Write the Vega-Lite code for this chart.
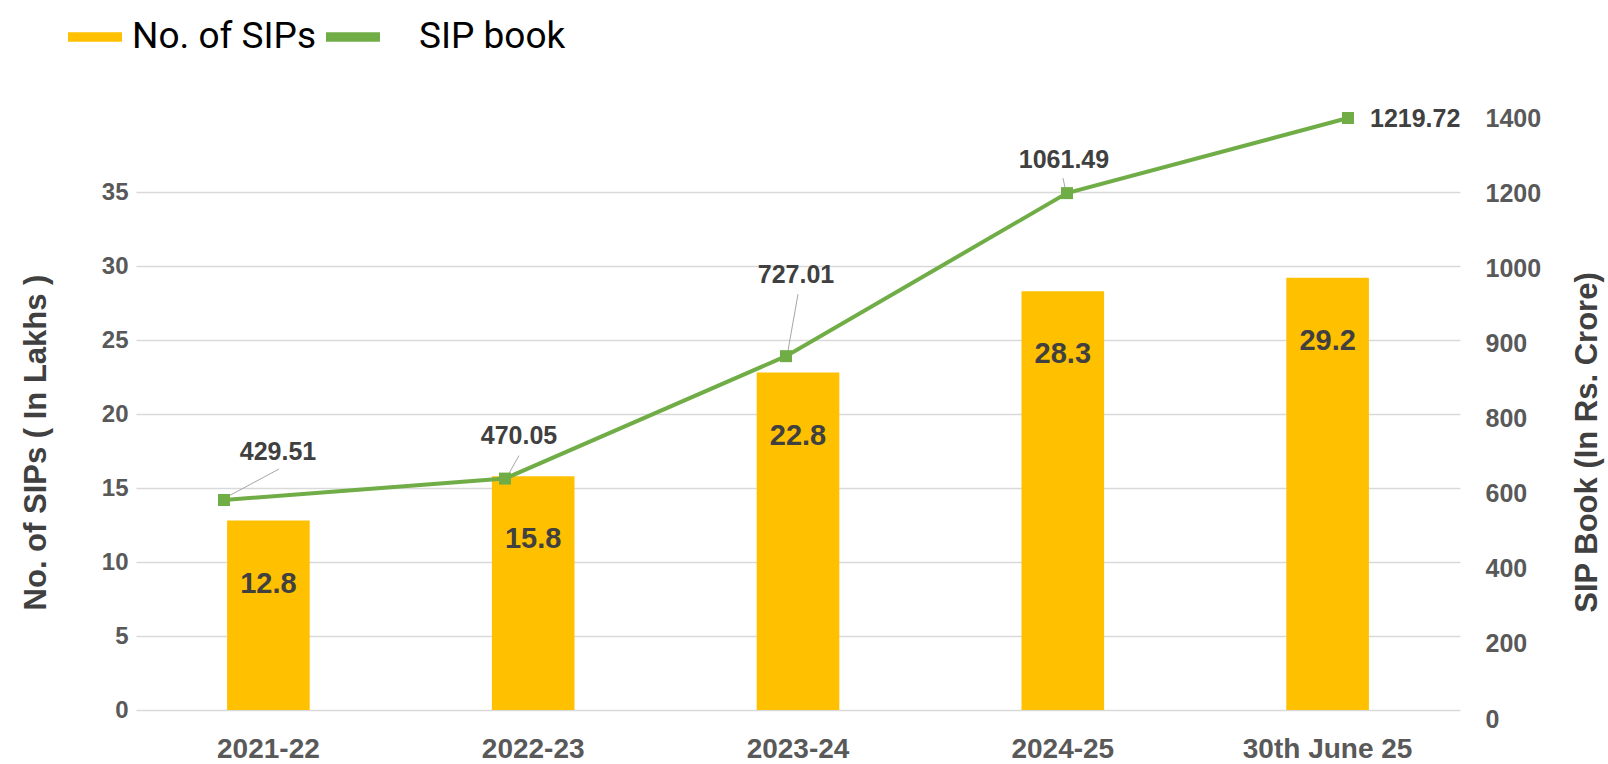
{
  "$schema": "https://vega.github.io/schema/vega-lite/v6.json",
  "width": 1324,
  "height": 592,
  "autosize": {"type": "none"},
  "padding": {"left": 136, "top": 118, "right": 148, "bottom": 54},
  "background": "white",
  "data": {"values": [
    {"period": "2021-22", "sips": 12.8, "sip_book": 429.51, "sip_book_axis": 583},
    {"period": "2022-23", "sips": 15.8, "sip_book": 470.05, "sip_book_axis": 640},
    {"period": "2023-24", "sips": 22.8, "sip_book": 727.01, "sip_book_axis": 883},
    {"period": "2024-25", "sips": 28.3, "sip_book": 1061.49, "sip_book_axis": 1200},
    {"period": "30th June 25", "sips": 29.2, "sip_book": 1219.72, "sip_book_axis": 1400}
  ]},
  "config": {"view": {"stroke": null}, "font": "Liberation Sans"},
  "resolve": {"scale": {"x": "independent", "y": "independent"}},
  "layer": [
    {
      "encoding": {
        "x": {"field": "period", "type": "nominal", "sort": null,
          "scale": {"paddingInner": 0, "paddingOuter": 0},
          "axis": {"title": null, "labelAngle": 0, "labelFont": "Liberation Sans", "labelFontWeight": "bold", "labelFontSize": 28, "labelColor": "#595959", "labelPadding": 25, "domain": false, "ticks": false, "grid": false}},
        "y": {"field": "sips", "type": "quantitative",
          "scale": {"domain": [0, 40], "nice": false, "zero": true},
          "axis": {"title": "No. of SIPs ( In Lakhs )", "values": [0, 5, 10, 15, 20, 25, 30, 35], "grid": true, "gridColor": "#D9D9D9", "gridWidth": 1.3, "domain": false, "ticks": false, "labelPadding": 8, "labelFont": "Liberation Sans", "labelFontWeight": "bold", "labelFontSize": 24, "labelColor": "#595959",
            "titleFont": "Liberation Sans", "titleFontWeight": "bold", "titleFontSize": 31, "titleColor": "#404040", "titleX": -100, "titleY": 324, "titleAngle": -90, "titleAlign": "center", "titleBaseline": "middle"}}
      },
      "layer": [
        {"mark": {"type": "bar", "width": {"band": 0.312}},
          "encoding": {"color": {"datum": "No. of SIPs", "type": "nominal",
            "scale": {"domain": ["No. of SIPs", "SIP book"], "range": ["#FFC000", "#70AD47"]},
            "legend": {"orient": "none", "legendX": -68, "legendY": -108, "direction": "horizontal", "title": null, "padding": 0,
              "symbolType": "M-1,-0.18H1V0.18H-1Z", "symbolSize": 2916, "symbolStrokeWidth": 0,
              "labelFont": "Roboto", "labelFontSize": 37, "labelColor": "#000000", "labelOffset": 10, "columnPadding": 9, "labelLimit": 400,
              "encode": {
                "symbols": {"update": {"fill": {"scale": "color", "field": "value"}, "opacity": {"value": 1}}},
                "labels": {"update": {"dx": {"signal": "datum.value == 'SIP book' ? 29 : 0"}}}}}}}},
        {"mark": {"type": "text", "dy": 63, "fontSize": 29, "fontWeight": "bold", "color": "#404040", "font": "Liberation Sans"},
          "encoding": {"text": {"field": "sips", "type": "quantitative", "format": ".1f"}}}
      ]
    },
    {
      "encoding": {
        "x": {"field": "period", "type": "nominal", "sort": null, "scale": {"type": "point", "padding": 0, "range": [88, 1212]}, "axis": null},
        "y": {"field": "sip_book_axis", "type": "quantitative",
          "scale": {"domain": [0, 200, 400, 600, 800, 900, 1000, 1200, 1400], "range": [601, 525.875, 450.75, 375.625, 300.5, 225.375, 150.25, 75.125, 0], "nice": false, "zero": false},
          "axis": {"orient": "right", "title": "SIP Book (In Rs. Crore)", "values": [0, 200, 400, 600, 800, 900, 1000, 1200, 1400], "format": "d", "grid": false, "domain": false, "ticks": false, "labelPadding": 25, "labelAlign": "left", "labelFont": "Liberation Sans", "labelFontWeight": "bold", "labelFontSize": 25, "labelColor": "#595959",
            "titleFont": "Liberation Sans", "titleFontWeight": "bold", "titleFontSize": 31, "titleColor": "#404040", "titleX": 127, "titleY": 324, "titleAngle": -90, "titleAlign": "center", "titleBaseline": "middle"}}
      },
      "layer": [
        {"transform": [{"filter": "datum.period == '2021-22'"}], "mark": {"type": "point", "shape": "M1,-2L55,-31", "size": 4, "filled": false, "stroke": "#A6A6A6", "strokeWidth": 1, "opacity": 1}},
        {"transform": [{"filter": "datum.period == '2022-23'"}], "mark": {"type": "point", "shape": "M1,0L14,-23", "size": 4, "filled": false, "stroke": "#A6A6A6", "strokeWidth": 1, "opacity": 1}},
        {"transform": [{"filter": "datum.period == '2023-24'"}], "mark": {"type": "point", "shape": "M1,0L12,-62", "size": 4, "filled": false, "stroke": "#A6A6A6", "strokeWidth": 1, "opacity": 1}},
        {"transform": [{"filter": "datum.period == '2024-25'"}], "mark": {"type": "point", "shape": "M-1,-1L-4,-15", "size": 4, "filled": false, "stroke": "#A6A6A6", "strokeWidth": 1, "opacity": 1}},
        {"mark": {"type": "line", "strokeWidth": 4}, "encoding": {"color": {"datum": "SIP book", "type": "nominal"}}},
        {"mark": {"type": "point", "shape": "square", "filled": true, "size": 144, "color": "#70AD47", "opacity": 1}},
        {"transform": [{"filter": "datum.period == '2021-22'"}], "mark": {"type": "text", "dx": 54, "dy": -48, "fontSize": 25, "fontWeight": "bold", "color": "#404040", "font": "Liberation Sans"}, "encoding": {"text": {"field": "sip_book", "type": "quantitative", "format": ".2f"}}},
        {"transform": [{"filter": "datum.period == '2022-23'"}], "mark": {"type": "text", "dx": 14, "dy": -43, "fontSize": 25, "fontWeight": "bold", "color": "#404040", "font": "Liberation Sans"}, "encoding": {"text": {"field": "sip_book", "type": "quantitative", "format": ".2f"}}},
        {"transform": [{"filter": "datum.period == '2023-24'"}], "mark": {"type": "text", "dx": 10, "dy": -81, "fontSize": 25, "fontWeight": "bold", "color": "#404040", "font": "Liberation Sans"}, "encoding": {"text": {"field": "sip_book", "type": "quantitative", "format": ".2f"}}},
        {"transform": [{"filter": "datum.period == '2024-25'"}], "mark": {"type": "text", "dx": -3, "dy": -33, "fontSize": 25, "fontWeight": "bold", "color": "#404040", "font": "Liberation Sans"}, "encoding": {"text": {"field": "sip_book", "type": "quantitative", "format": ".2f"}}},
        {"transform": [{"filter": "datum.period == '30th June 25'"}], "mark": {"type": "text", "align": "left", "dx": 22, "dy": 1, "fontSize": 25, "fontWeight": "bold", "color": "#404040", "font": "Liberation Sans"}, "encoding": {"text": {"field": "sip_book", "type": "quantitative", "format": ".2f"}}}
      ]
    }
  ]
}
